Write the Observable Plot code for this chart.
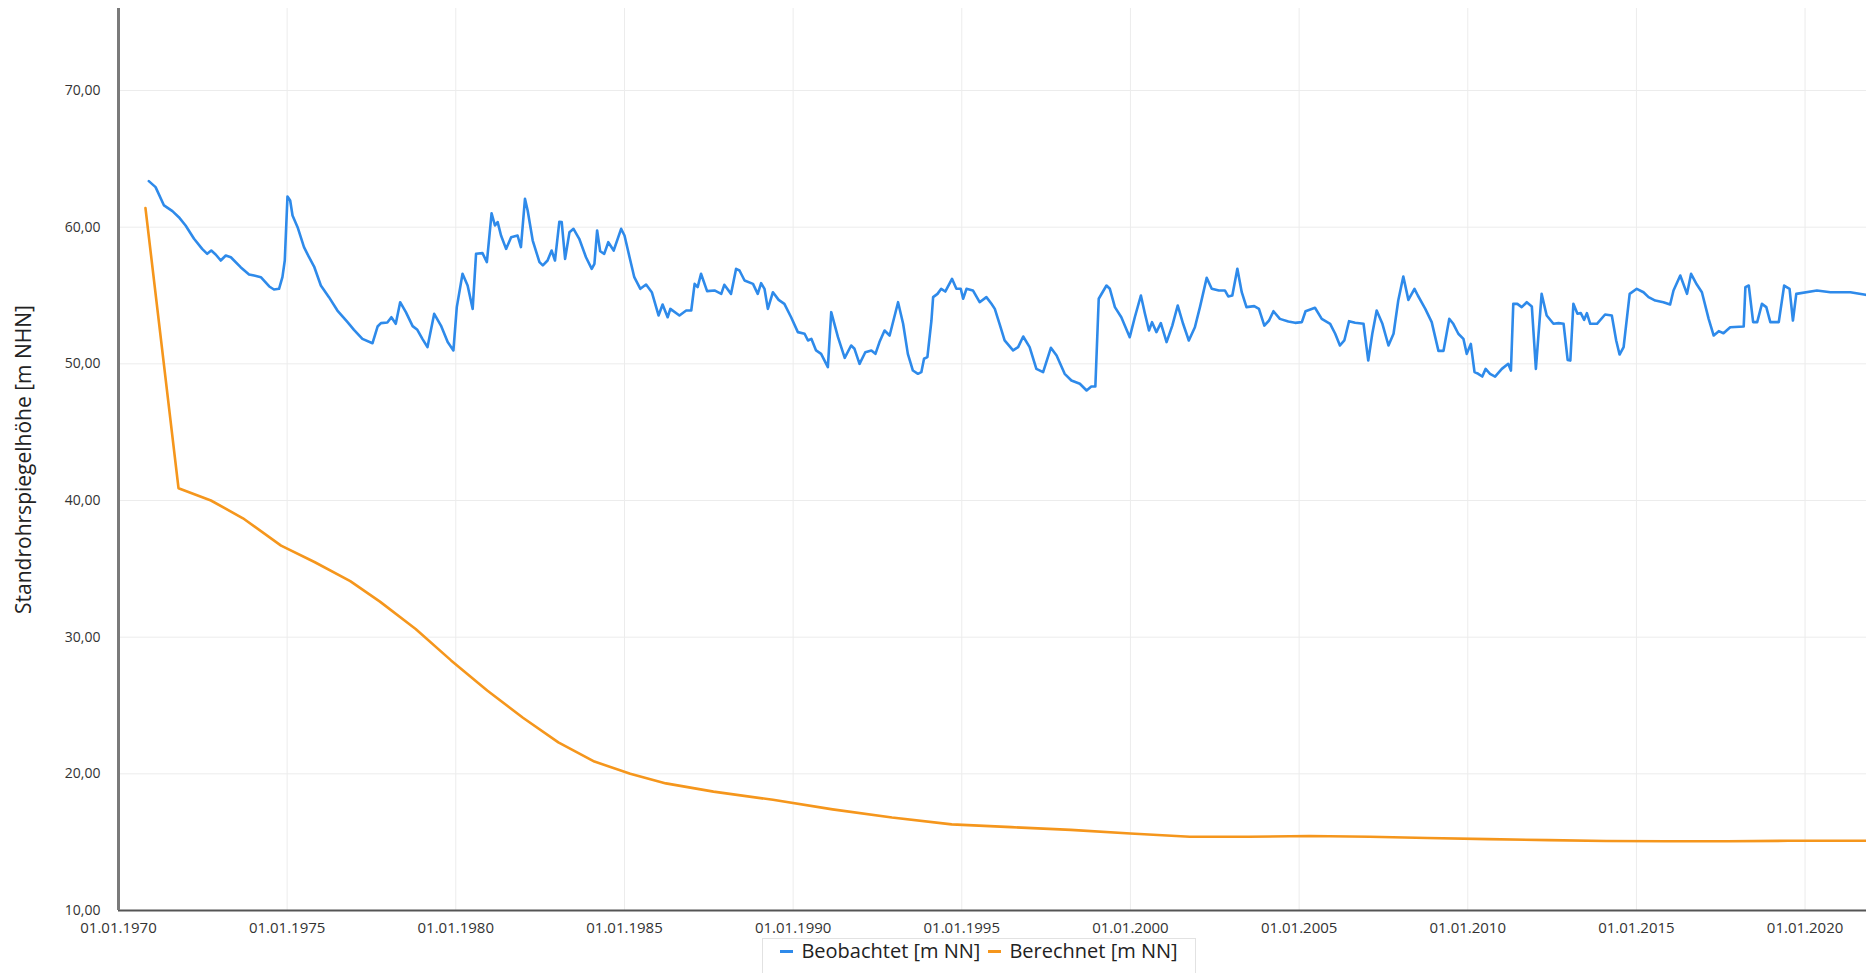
<!DOCTYPE html>
<html>
<head>
<meta charset="utf-8">
<script src="https://cdn.jsdelivr.net/npm/d3@7"></script>
<script src="https://cdn.jsdelivr.net/npm/@observablehq/plot@0.6"></script>
<style>
  html, body { margin: 0; padding: 0; background: #fff; }
  #wrap { position: relative; width: 1866px; height: 973px; overflow: hidden; font-family: "Open Sans", sans-serif; }
  #legend { position: absolute; left: 762px; top: 938px; width: 434px; height: 60px; border: 1px solid #e2e2e2; background: transparent;
            display: flex; justify-content: center; align-items: flex-start; padding-top: 0px; box-sizing: border-box;
            font-size: 20px; line-height: 24px; color: #222; white-space: nowrap; }
  .key { display: inline-flex; align-items: center; margin: 0 4px; }
  .sw { display: inline-block; width: 13px; height: 3px; margin-right: 8px; }
</style>
</head>
<body>
<div id="wrap">
  <div id="chart"></div>
  <div id="legend"></div>
</div>
<script>
// ---- data (decimal years, m NN) ----
const seriesNames = ["Beobachtet [m NN]", "Berechnet [m NN]"];
const seriesColors = ["#2E8AEA", "#F5961C"];
const yAxisTitle = "Standrohrspiegelhöhe [m NHN]";

const beobT = [1970.90,1971.10,1971.35,1971.60,1971.79,1971.99,1972.24,1972.48,1972.63,1972.75,1972.88,1973.03,1973.18,1973.33,1973.62,1973.87,1974.02,1974.22,1974.47,1974.61,1974.76,1974.86,1974.93,1975.01,1975.09,1975.16,1975.31,1975.50,1975.65,1975.80,1976.00,1976.24,1976.49,1976.79,1976.98,1977.23,1977.53,1977.68,1977.78,1977.97,1978.09,1978.22,1978.35,1978.52,1978.72,1978.86,1979.01,1979.16,1979.36,1979.56,1979.76,1979.93,1980.03,1980.20,1980.35,1980.50,1980.60,1980.79,1980.92,1981.06,1981.16,1981.24,1981.34,1981.49,1981.64,1981.83,1981.93,1982.05,1982.13,1982.28,1982.48,1982.58,1982.72,1982.84,1982.94,1983.07,1983.14,1983.24,1983.37,1983.49,1983.66,1983.86,1984.03,1984.11,1984.19,1984.28,1984.40,1984.52,1984.68,1984.90,1985.00,1985.15,1985.29,1985.47,1985.64,1985.81,1986.01,1986.13,1986.28,1986.36,1986.63,1986.83,1986.98,1987.08,1987.17,1987.27,1987.45,1987.67,1987.87,1987.96,1988.16,1988.31,1988.41,1988.56,1988.81,1988.95,1989.05,1989.15,1989.25,1989.40,1989.57,1989.74,1989.94,1990.14,1990.34,1990.44,1990.54,1990.68,1990.83,1991.03,1991.13,1991.33,1991.53,1991.72,1991.82,1991.97,1992.14,1992.32,1992.44,1992.56,1992.71,1992.86,1993.11,1993.26,1993.40,1993.55,1993.70,1993.80,1993.88,1993.98,1994.10,1994.15,1994.28,1994.39,1994.51,1994.71,1994.84,1994.97,1995.04,1995.14,1995.33,1995.53,1995.73,1995.88,1995.98,1996.12,1996.27,1996.52,1996.67,1996.82,1997.01,1997.21,1997.41,1997.64,1997.81,1998.05,1998.25,1998.50,1998.70,1998.84,1998.96,1999.06,1999.29,1999.39,1999.54,1999.73,1999.98,2000.13,2000.31,2000.43,2000.55,2000.64,2000.77,2000.90,2001.07,2001.24,2001.40,2001.56,2001.73,2001.91,2002.06,2002.26,2002.41,2002.62,2002.80,2002.90,2003.02,2003.17,2003.30,2003.44,2003.67,2003.81,2003.97,2004.11,2004.24,2004.43,2004.68,2004.88,2005.08,2005.19,2005.47,2005.67,2005.92,2006.07,2006.21,2006.34,2006.48,2006.66,2006.91,2007.05,2007.17,2007.30,2007.47,2007.65,2007.80,2007.94,2008.09,2008.24,2008.42,2008.52,2008.74,2008.93,2009.13,2009.28,2009.45,2009.57,2009.72,2009.87,2009.97,2010.09,2010.20,2010.31,2010.43,2010.53,2010.66,2010.81,2011.01,2011.20,2011.28,2011.35,2011.47,2011.60,2011.75,2011.90,2012.02,2012.19,2012.34,2012.54,2012.69,2012.84,2012.96,2013.04,2013.13,2013.25,2013.35,2013.45,2013.53,2013.63,2013.83,2014.07,2014.27,2014.40,2014.50,2014.62,2014.80,2015.01,2015.21,2015.36,2015.56,2015.80,2016.00,2016.10,2016.30,2016.50,2016.62,2016.79,2016.94,2017.14,2017.29,2017.44,2017.58,2017.78,2018.18,2018.23,2018.33,2018.46,2018.58,2018.72,2018.85,2018.97,2019.22,2019.38,2019.54,2019.64,2019.74,2020.35,2020.75,2021.34,2021.79];
const beobV = [63.37,62.93,61.59,61.17,60.73,60.12,59.15,58.41,58.05,58.29,58.00,57.56,57.93,57.80,57.07,56.54,56.46,56.34,55.66,55.44,55.49,56.34,57.56,62.24,61.95,60.85,60.00,58.54,57.80,57.12,55.73,54.88,53.90,53.05,52.49,51.83,51.51,52.73,52.98,53.02,53.41,52.93,54.51,53.78,52.76,52.49,51.83,51.22,53.66,52.80,51.59,50.98,54.15,56.59,55.73,54.02,58.05,58.10,57.44,61.02,60.12,60.37,59.39,58.41,59.27,59.39,58.54,62.07,61.22,59.02,57.44,57.20,57.56,58.29,57.56,60.40,60.37,57.68,59.63,59.88,59.15,57.80,56.95,57.32,59.76,58.24,58.05,58.90,58.29,59.88,59.39,57.80,56.34,55.49,55.80,55.24,53.54,54.34,53.41,54.02,53.54,53.90,53.90,55.85,55.61,56.59,55.32,55.37,55.12,55.78,55.12,56.95,56.83,56.10,55.85,55.12,55.90,55.49,54.02,55.24,54.68,54.39,53.41,52.32,52.20,51.71,51.83,50.98,50.73,49.76,53.78,51.95,50.44,51.34,51.10,50.00,50.85,50.98,50.73,51.59,52.44,52.07,54.51,52.93,50.73,49.51,49.27,49.39,50.37,50.49,53.17,54.88,55.12,55.49,55.29,56.22,55.49,55.49,54.76,55.49,55.37,54.51,54.88,54.39,54.02,52.93,51.71,50.98,51.22,52.00,51.22,49.63,49.39,51.17,50.61,49.27,48.78,48.54,48.05,48.34,48.34,54.76,55.73,55.49,54.15,53.41,51.95,53.41,55.00,53.66,52.44,53.05,52.32,52.98,51.59,52.80,54.27,52.93,51.71,52.68,54.15,56.29,55.49,55.37,55.37,54.93,55.00,56.95,55.24,54.15,54.22,54.02,52.80,53.17,53.85,53.29,53.10,53.00,53.05,53.85,54.10,53.29,52.93,52.20,51.34,51.71,53.12,53.00,52.93,50.24,52.20,53.90,52.93,51.34,52.20,54.63,56.39,54.68,55.49,55.00,54.02,53.05,50.95,50.95,53.29,52.93,52.20,51.83,50.73,51.46,49.39,49.27,49.07,49.63,49.27,49.07,49.63,50.00,49.51,54.39,54.39,54.15,54.51,54.20,49.63,55.12,53.54,52.93,52.98,52.93,50.29,50.24,54.39,53.66,53.71,53.22,53.71,52.93,52.93,53.61,53.54,51.71,50.68,51.22,55.12,55.49,55.24,54.88,54.63,54.51,54.34,55.37,56.46,55.12,56.59,55.80,55.24,53.29,52.07,52.39,52.24,52.68,52.73,55.61,55.73,53.05,53.05,54.39,54.15,53.05,53.05,55.73,55.49,53.17,55.12,55.37,55.24,55.24,55.05];

const berT = [1970.80,1971.78,1972.74,1973.69,1974.82,1975.81,1976.87,1977.75,1978.81,1979.86,1980.93,1981.99,1983.04,1984.11,1985.17,1986.23,1987.64,1989.40,1991.17,1992.93,1994.70,1996.47,1998.23,2000.00,2001.76,2003.50,2005.30,2007.10,2008.80,2010.60,2012.40,2014.10,2015.90,2017.70,2019.50,2021.82];
const berV = [61.40,40.90,40.00,38.70,36.70,35.50,34.10,32.60,30.60,28.30,26.10,24.10,22.30,20.90,20.00,19.30,18.70,18.10,17.40,16.80,16.30,16.10,15.90,15.63,15.40,15.40,15.45,15.40,15.30,15.22,15.15,15.08,15.07,15.07,15.10,15.10];

const yTicks = [10, 20, 30, 40, 50, 60, 70];
const xStartYear = 1970, xEndYear = 2021.82;

// ---- helpers ----
function toDate(y) {
  const yr = Math.floor(y);
  const s = Date.UTC(yr, 0, 1), e = Date.UTC(yr + 1, 0, 1);
  return new Date(s + (y - yr) * (e - s));
}
const beob = beobT.map((t, i) => ({date: toDate(t), value: beobV[i]}));
const ber = berT.map((t, i) => ({date: toDate(t), value: berV[i]}));
const xDomain = [toDate(xStartYear), toDate(xEndYear)];
const xTicks = d3.utcYear.every(5).range(xDomain[0], xDomain[1]);

const chart = Plot.plot({
  width: 1866,
  height: 935,
  marginLeft: 118,
  marginRight: 0,
  marginTop: 8,
  marginBottom: 25,
  style: {fontFamily: "Open Sans, sans-serif", fontSize: "14px", color: "#333", background: "white", overflow: "visible"},
  x: {type: "utc", domain: xDomain, ticks: xTicks, tickFormat: d3.utcFormat("%d.%m.%Y"), tickSize: 0, tickPadding: 12, label: null},
  y: {domain: [10, 76], ticks: yTicks, tickFormat: d => d.toFixed(2).replace(".", ","), tickSize: 0, tickPadding: 18, label: null},
  marks: [
    Plot.ruleX(xTicks.slice(1), {stroke: "#ececec", strokeWidth: 1}),
    Plot.ruleY(yTicks.slice(1), {stroke: "#ececec", strokeWidth: 1}),
    Plot.line(ber, {x: "date", y: "value", stroke: seriesColors[1], strokeWidth: 2.6}),
    Plot.line(beob, {x: "date", y: "value", stroke: seriesColors[0], strokeWidth: 2.6}),
    Plot.ruleY([10], {stroke: "#555", strokeWidth: 2}),
    Plot.ruleX([xDomain[0]], {stroke: "#7a7a7a", strokeWidth: 3}),
    Plot.text([yAxisTitle], {frameAnchor: "left", dx: -94, rotate: -90, textAnchor: "middle", text: d => d, fontSize: 21, fill: "#222"})
  ]
});
// enlarge x tick labels slightly
chart.querySelectorAll('[aria-label="x-axis tick label"], g[aria-label="x-axis"]').forEach(g => g.setAttribute("font-size", "15"));
document.getElementById("chart").appendChild(chart);

const legend = document.getElementById("legend");
seriesNames.forEach((n, i) => {
  const k = document.createElement("span");
  k.className = "key";
  const sw = document.createElement("span");
  sw.className = "sw";
  sw.style.background = seriesColors[i];
  k.appendChild(sw);
  k.appendChild(document.createTextNode(n));
  legend.appendChild(k);
});
</script>
</body>
</html>
